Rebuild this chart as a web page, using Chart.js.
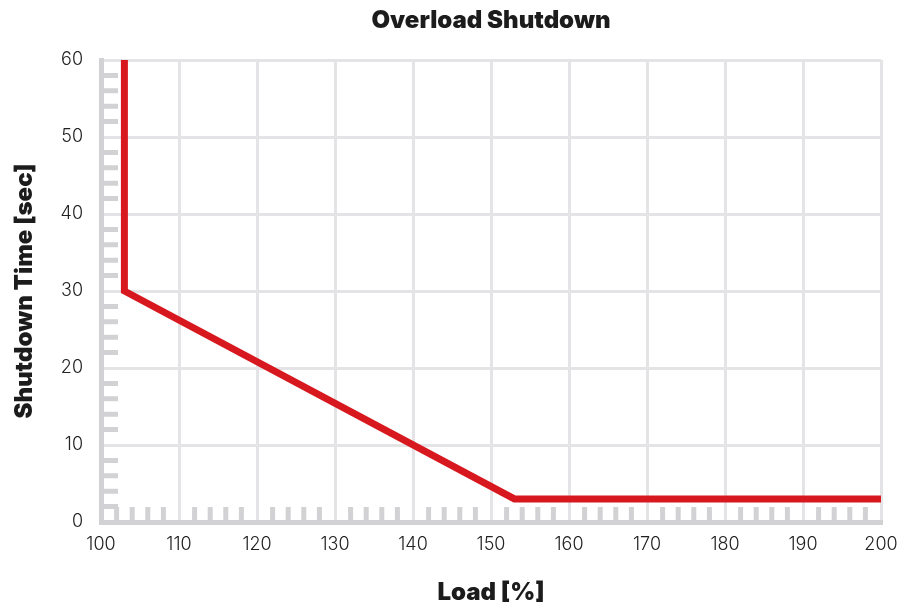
<!DOCTYPE html>
<html>
<head>
<meta charset="utf-8">
<script src="https://cdn.jsdelivr.net/npm/chart.js@4"></script>
<style>
  html, body { margin: 0; padding: 0; background: #ffffff; }
  #wrap { width: 914px; height: 608px; position: relative; }
</style>
</head>
<body>
<div id="wrap"><canvas id="overloadChart"></canvas></div>
<script>
// Curve break points
const loadPct = [103, 103, 153, 200];
const shutdownSec = [60, 30, 3, 3];

// Axis ranges
const xMin = 100, xMax = 200, xStep = 10;
const yMin = 0, yMax = 60, yStep = 10;

// small gray ticks every 2 units, skipping the major gridlines
const minorStep = 2;
const xMinor = [];
for (let v = xMin + minorStep; v < xMax; v += minorStep) if (v % xStep) xMinor.push(v);
const yMinor = [];
for (let v = yMin + minorStep; v < yMax; v += minorStep) if (v % yStep) yMinor.push(v);

const minorTicks = {
    id: "minorTicks",
    afterLayout(chart) {
        // title centred over the plot, not the whole canvas
        const t = chart.titleBlock;
        if (t) {
            t.left = chart.chartArea.left;
            t.right = chart.chartArea.right;
            t.width = t.right - t.left;
        }
    },
    beforeDatasetsDraw(chart) {
        const { ctx, scales: { x, y } } = chart;
        const base = y.getPixelForValue(0);
        const left = x.getPixelForValue(xMin);
        ctx.save();
        ctx.strokeStyle = "#d2d2d4";
        ctx.lineWidth = 5;
        ctx.beginPath();
        xMinor.forEach(v => {
            const px = x.getPixelForValue(v);
            ctx.moveTo(px, base);
            ctx.lineTo(px, base - 15);
        });
        yMinor.forEach(v => {
            const py = y.getPixelForValue(v);
            ctx.moveTo(left, py);
            ctx.lineTo(left + 17, py);
        });
        ctx.stroke();
        ctx.restore();
    }
};

new Chart(document.getElementById("overloadChart"), {
    type: "scatter",
    data: {
        datasets: [{
            data: loadPct.map((v, i) => ({ x: v, y: shutdownSec[i] })),
            showLine: true,
            borderColor: "#d7191f",
            borderWidth: 7,
            pointRadius: 0,
            fill: false,
            tension: 0,
            borderJoinStyle: "miter",
        }],
    },
    options: {
        responsive: true,
        maintainAspectRatio: false,
        animation: false,
        layout: { padding: { left: 0, right: 33, top: 0, bottom: 0 } },
        plugins: {
            legend: { display: false },
            tooltip: { enabled: false },
            title: {
                display: true,
                text: "Overload Shutdown",
                color: "#1c1c1c",
                font: { family: "Inter", size: 24, weight: "900" },
                padding: { top: 6, bottom: 25.2 },
            },
        },
        scales: {
            x: {
                type: "linear",
                min: xMin,
                max: xMax,
                afterFit(scale) { scale.height = 86; },
                ticks: {
                    stepSize: xStep,
                    color: "#222",
                    padding: 12,
                    font: { family: "Inter", size: 18, weight: "300" },
                },
                grid: { color: "#e4e4e6", lineWidth: 3, drawTicks: false },
                border: { color: "#d2d2d4", width: 5 },
                title: {
                    display: true,
                    text: "Load [%]",
                    color: "#1c1c1c",
                    font: { family: "Inter", size: 24, weight: "900" },
                    padding: { top: 0, bottom: 1 },
                },
            },
            y: {
                min: yMin,
                max: yMax,
                afterFit(scale) { scale.width = 101; },
                ticks: {
                    stepSize: yStep,
                    color: "#222",
                    padding: 18,
                    font: { family: "Inter", size: 18, weight: "300" },
                },
                grid: { color: "#e4e4e6", lineWidth: 3, drawTicks: false },
                border: { color: "#d2d2d4", width: 5 },
                title: {
                    display: true,
                    text: "Shutdown Time [sec]",
                    color: "#1c1c1c",
                    font: { family: "Inter", size: 24, weight: "900" },
                    padding: { top: 10, bottom: 0 },
                },
            },
        },
    },
    plugins: [minorTicks],
});
</script>
</body>
</html>
